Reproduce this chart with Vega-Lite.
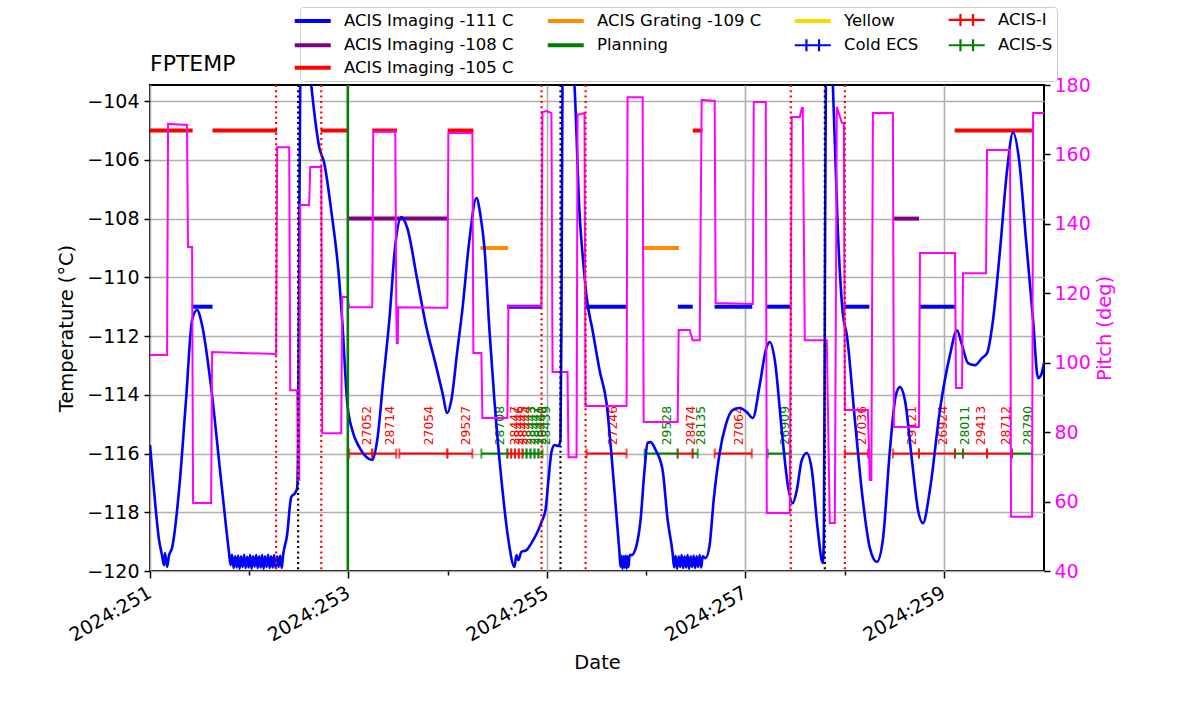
{
  "$schema": "https://vega.github.io/schema/vega-lite/v6.json",
  "width": 894,
  "height": 486,
  "autosize": {"type": "none"},
  "padding": {"left": 150, "top": 85, "right": 156, "bottom": 143},
  "background": "white",
  "title": {"text": "FPTEMP", "anchor": "start", "frame": "group", "fontSize": 22, "fontWeight": "normal", "font": "DejaVu Sans", "color": "black", "offset": 4, "dy": 73},
  "config": {
    "font": "DejaVu Sans",
    "view": {"stroke": "black", "strokeWidth": 2},
    "axis": {"labelFont": "DejaVu Sans", "labelFontSize": 19, "titleFont": "DejaVu Sans", "titleFontSize": 19.4, "titleFontWeight": "normal", "labelColor": "black", "titleColor": "black", "tickColor": "black", "tickWidth": 1.5, "gridColor": "#b0b0b0", "gridWidth": 1.6, "gridOpacity": 1, "domain": false},
    "legend": {"labelFont": "DejaVu Sans", "labelFontSize": 16.5, "labelColor": "black"}
  },
  "datasets": {
    "temp": [
      {"d":251.000,"t":-115.71},{"d":251.040,"t":-117.24},{"d":251.091,"t":-118.94},{"d":251.121,"t":-119.46},{"d":251.141,"t":-119.80},{"d":251.151,"t":-119.39},{"d":251.172,"t":-119.86},{"d":251.192,"t":-119.46},{"d":251.222,"t":-119.22},{"d":251.293,"t":-117.24},{"d":251.363,"t":-114.18},{"d":251.424,"t":-111.46},{"d":251.474,"t":-111.11},{"d":251.525,"t":-111.63},{"d":251.616,"t":-113.74},{"d":251.716,"t":-116.90},{"d":251.797,"t":-119.39},{"d":251.812,"t":-119.80},{"d":251.827,"t":-119.45},{"d":251.843,"t":-119.90},{"d":251.858,"t":-119.50},{"d":251.873,"t":-119.88},{"d":251.888,"t":-119.47},{"d":251.903,"t":-119.92},{"d":251.918,"t":-119.50},{"d":251.934,"t":-119.86},{"d":251.949,"t":-119.45},{"d":251.964,"t":-119.90},{"d":251.979,"t":-119.52},{"d":251.994,"t":-119.88},{"d":252.009,"t":-119.46},{"d":252.024,"t":-119.92},{"d":252.039,"t":-119.50},{"d":252.055,"t":-119.85},{"d":252.070,"t":-119.46},{"d":252.085,"t":-119.90},{"d":252.100,"t":-119.50},{"d":252.115,"t":-119.88},{"d":252.130,"t":-119.46},{"d":252.145,"t":-119.92},{"d":252.160,"t":-119.50},{"d":252.176,"t":-119.86},{"d":252.191,"t":-119.45},{"d":252.206,"t":-119.90},{"d":252.221,"t":-119.50},{"d":252.236,"t":-119.88},{"d":252.251,"t":-119.46},{"d":252.266,"t":-119.90},{"d":252.282,"t":-119.50},{"d":252.297,"t":-119.86},{"d":252.312,"t":-119.47},{"d":252.327,"t":-119.90},{"d":252.342,"t":-119.45},{"d":252.382,"t":-118.77},{"d":252.423,"t":-117.48},{"d":252.463,"t":-117.34},{"d":252.483,"t":-117.17},{"d":252.493,"t":-115.54},{"d":252.504,"t":-109.07},{"d":252.514,"t":-103.45},{"d":252.564,"t":-101.5},{"d":252.625,"t":-103.45},{"d":252.665,"t":-104.65},{"d":252.706,"t":-105.57},{"d":252.756,"t":-106.11},{"d":252.826,"t":-107.71},{"d":252.907,"t":-110.09},{"d":252.937,"t":-111.46},{"d":252.988,"t":-114.28},{"d":253.038,"t":-115.20},{"d":253.109,"t":-115.78},{"d":253.180,"t":-116.12},{"d":253.240,"t":-116.22},{"d":253.290,"t":-115.54},{"d":253.351,"t":-113.50},{"d":253.412,"t":-111.46},{"d":253.472,"t":-108.90},{"d":253.533,"t":-107.95},{"d":253.593,"t":-108.32},{"d":253.694,"t":-110.09},{"d":253.785,"t":-111.69},{"d":253.876,"t":-112.92},{"d":253.946,"t":-113.91},{"d":253.997,"t":-114.62},{"d":254.037,"t":-114.18},{"d":254.098,"t":-112.48},{"d":254.148,"t":-111.11},{"d":254.219,"t":-108.73},{"d":254.290,"t":-107.30},{"d":254.330,"t":-107.88},{"d":254.370,"t":-108.97},{"d":254.421,"t":-111.80},{"d":254.471,"t":-114.18},{"d":254.542,"t":-116.90},{"d":254.612,"t":-118.94},{"d":254.673,"t":-119.86},{"d":254.693,"t":-119.46},{"d":254.713,"t":-119.63},{"d":254.743,"t":-119.35},{"d":254.794,"t":-119.29},{"d":254.844,"t":-119.05},{"d":254.905,"t":-118.67},{"d":254.955,"t":-118.26},{"d":254.986,"t":-117.92},{"d":255.016,"t":-116.90},{"d":255.046,"t":-115.95},{"d":255.077,"t":-115.71},{"d":255.117,"t":-115.74},{"d":255.137,"t":-115.54},{"d":255.147,"t":-111.46},{"d":255.157,"t":-103.45},{"d":255.208,"t":-101.3},{"d":255.278,"t":-103.45},{"d":255.329,"t":-107.81},{"d":255.369,"t":-109.58},{"d":255.400,"t":-110.67},{"d":255.460,"t":-111.80},{"d":255.531,"t":-113.16},{"d":255.601,"t":-114.28},{"d":255.672,"t":-116.90},{"d":255.732,"t":-119.39},{"d":255.742,"t":-119.85},{"d":255.752,"t":-119.48},{"d":255.762,"t":-119.92},{"d":255.772,"t":-119.50},{"d":255.783,"t":-119.88},{"d":255.793,"t":-119.47},{"d":255.803,"t":-119.92},{"d":255.813,"t":-119.50},{"d":255.823,"t":-119.86},{"d":255.833,"t":-119.46},{"d":255.853,"t":-119.46},{"d":255.904,"t":-119.12},{"d":255.944,"t":-118.26},{"d":255.984,"t":-116.56},{"d":256.015,"t":-115.64},{"d":256.045,"t":-115.61},{"d":256.096,"t":-115.88},{"d":256.166,"t":-116.56},{"d":256.217,"t":-118.26},{"d":256.267,"t":-119.39},{"d":256.282,"t":-119.88},{"d":256.297,"t":-119.48},{"d":256.312,"t":-119.92},{"d":256.328,"t":-119.50},{"d":256.343,"t":-119.86},{"d":256.358,"t":-119.46},{"d":256.373,"t":-119.90},{"d":256.388,"t":-119.50},{"d":256.403,"t":-119.88},{"d":256.418,"t":-119.46},{"d":256.433,"t":-119.92},{"d":256.449,"t":-119.50},{"d":256.464,"t":-119.86},{"d":256.479,"t":-119.47},{"d":256.494,"t":-119.90},{"d":256.509,"t":-119.50},{"d":256.524,"t":-119.86},{"d":256.540,"t":-119.46},{"d":256.555,"t":-119.88},{"d":256.570,"t":-119.50},{"d":256.600,"t":-119.56},{"d":256.640,"t":-119.12},{"d":256.681,"t":-117.58},{"d":256.741,"t":-115.98},{"d":256.802,"t":-115.03},{"d":256.872,"t":-114.52},{"d":256.943,"t":-114.45},{"d":257.014,"t":-114.59},{"d":257.075,"t":-114.79},{"d":257.145,"t":-113.67},{"d":257.206,"t":-112.48},{"d":257.246,"t":-112.20},{"d":257.297,"t":-112.82},{"d":257.367,"t":-115.20},{"d":257.428,"t":-117.07},{"d":257.478,"t":-117.69},{"d":257.519,"t":-117.24},{"d":257.569,"t":-116.22},{"d":257.619,"t":-115.98},{"d":257.670,"t":-116.56},{"d":257.730,"t":-118.60},{"d":257.781,"t":-119.73},{"d":257.791,"t":-118.9},{"d":257.801,"t":-111.46},{"d":257.811,"t":-103.45},{"d":257.841,"t":-101.3},{"d":257.882,"t":-103.45},{"d":257.932,"t":-108.39},{"d":257.982,"t":-111.22},{"d":258.023,"t":-111.97},{"d":258.104,"t":-114.86},{"d":258.184,"t":-117.58},{"d":258.255,"t":-119.22},{"d":258.326,"t":-119.69},{"d":258.386,"t":-118.94},{"d":258.457,"t":-115.88},{"d":258.517,"t":-114.01},{"d":258.558,"t":-113.74},{"d":258.608,"t":-114.18},{"d":258.679,"t":-116.22},{"d":258.740,"t":-117.92},{"d":258.790,"t":-118.37},{"d":258.860,"t":-117.24},{"d":258.961,"t":-114.52},{"d":259.062,"t":-112.65},{"d":259.133,"t":-111.80},{"d":259.184,"t":-112.31},{"d":259.244,"t":-112.92},{"d":259.315,"t":-112.99},{"d":259.385,"t":-112.75},{"d":259.436,"t":-112.58},{"d":259.496,"t":-111.46},{"d":259.567,"t":-109.07},{"d":259.638,"t":-106.35},{"d":259.698,"t":-105.06},{"d":259.759,"t":-106.01},{"d":259.829,"t":-108.73},{"d":259.900,"t":-111.46},{"d":259.950,"t":-113.43},{"d":259.980,"t":-113.33},{"d":260.011,"t":-112.89}
    ],
    "pitch": [
      {"d":251.000,"p":102.2},{"d":251.172,"p":102.2},{"d":251.182,"p":168.8},{"d":251.373,"p":168.5},{"d":251.383,"p":133.3},{"d":251.424,"p":133.3},{"d":251.434,"p":59.6},{"d":251.616,"p":59.6},{"d":251.626,"p":103.1},{"d":252.271,"p":102.5},{"d":252.282,"p":162.1},{"d":252.403,"p":162.1},{"d":252.413,"p":92.1},{"d":252.483,"p":92.1},{"d":252.493,"p":66.2},{"d":252.504,"p":66.2},{"d":252.514,"p":145.4},{"d":252.604,"p":145.4},{"d":252.615,"p":156.4},{"d":252.726,"p":156.4},{"d":252.736,"p":79.7},{"d":252.927,"p":79.7},{"d":252.937,"p":118.9},{"d":252.988,"p":118.9},{"d":253.008,"p":116.0},{"d":253.240,"p":116.0},{"d":253.250,"p":166.5},{"d":253.472,"p":166.5},{"d":253.482,"p":116.0},{"d":253.487,"p":105.7},{"d":253.497,"p":105.7},{"d":253.502,"p":116.0},{"d":253.916,"p":115.8},{"d":253.997,"p":115.8},{"d":254.007,"p":166.2},{"d":254.249,"p":166.2},{"d":254.259,"p":102.8},{"d":254.340,"p":102.8},{"d":254.350,"p":84.1},{"d":254.602,"p":84.1},{"d":254.612,"p":116.3},{"d":254.945,"p":116.3},{"d":254.955,"p":172.2},{"d":254.996,"p":172.5},{"d":255.046,"p":171.9},{"d":255.057,"p":97.3},{"d":255.208,"p":97.3},{"d":255.218,"p":72.8},{"d":255.299,"p":72.8},{"d":255.309,"p":171.4},{"d":255.379,"p":171.9},{"d":255.389,"p":87.5},{"d":255.803,"p":87.5},{"d":255.813,"p":176.5},{"d":255.965,"p":176.5},{"d":255.975,"p":82.9},{"d":256.318,"p":82.9},{"d":256.328,"p":109.4},{"d":256.439,"p":109.4},{"d":256.469,"p":106.5},{"d":256.540,"p":106.5},{"d":256.560,"p":175.7},{"d":256.691,"p":175.4},{"d":256.701,"p":117.2},{"d":257.075,"p":116.9},{"d":257.085,"p":175.1},{"d":257.206,"p":175.1},{"d":257.216,"p":56.7},{"d":257.448,"p":56.7},{"d":257.468,"p":170.8},{"d":257.549,"p":170.8},{"d":257.569,"p":173.4},{"d":257.579,"p":173.4},{"d":257.599,"p":106.5},{"d":257.821,"p":106.5},{"d":257.851,"p":53.8},{"d":257.902,"p":53.8},{"d":257.922,"p":173.7},{"d":257.973,"p":169.1},{"d":257.993,"p":169.1},{"d":258.003,"p":86.4},{"d":258.235,"p":86.4},{"d":258.255,"p":66.2},{"d":258.270,"p":66.2},{"d":258.286,"p":171.9},{"d":258.487,"p":171.9},{"d":258.497,"p":81.5},{"d":258.750,"p":81.5},{"d":258.760,"p":131.6},{"d":259.113,"p":131.6},{"d":259.123,"p":92.7},{"d":259.184,"p":92.7},{"d":259.194,"p":125.8},{"d":259.426,"p":125.8},{"d":259.436,"p":161.3},{"d":259.668,"p":161.3},{"d":259.678,"p":55.6},{"d":259.890,"p":55.6},{"d":259.900,"p":171.9},{"d":260.011,"p":171.9}
    ],
    "limits": [
      {"series":"ACIS Imaging -105 C","start":251.0,"end":251.43,"t":-105},
      {"series":"ACIS Imaging -105 C","start":251.63,"end":252.28,"t":-105},
      {"series":"ACIS Imaging -105 C","start":252.72,"end":253.0,"t":-105},
      {"series":"ACIS Imaging -105 C","start":253.24,"end":253.49,"t":-105},
      {"series":"ACIS Imaging -105 C","start":254.0,"end":254.26,"t":-105},
      {"series":"ACIS Imaging -105 C","start":256.47,"end":256.57,"t":-105},
      {"series":"ACIS Imaging -105 C","start":259.11,"end":259.89,"t":-105},
      {"series":"ACIS Imaging -108 C","start":253.0,"end":254.01,"t":-108},
      {"series":"ACIS Imaging -108 C","start":258.49,"end":258.75,"t":-108},
      {"series":"ACIS Grating -109 C","start":254.33,"end":254.61,"t":-109},
      {"series":"ACIS Grating -109 C","start":255.97,"end":256.33,"t":-109},
      {"series":"ACIS Imaging -111 C","start":251.42,"end":251.63,"t":-111},
      {"series":"ACIS Imaging -111 C","start":254.60,"end":254.95,"t":-111},
      {"series":"ACIS Imaging -111 C","start":255.39,"end":255.80,"t":-111},
      {"series":"ACIS Imaging -111 C","start":256.32,"end":256.47,"t":-111},
      {"series":"ACIS Imaging -111 C","start":256.69,"end":257.07,"t":-111},
      {"series":"ACIS Imaging -111 C","start":257.21,"end":257.46,"t":-111},
      {"series":"ACIS Imaging -111 C","start":257.99,"end":258.25,"t":-111},
      {"series":"ACIS Imaging -111 C","start":258.75,"end":259.12,"t":-111}
    ],
    "obs": [
      {"det":"ACIS-I","obsid":"27052","start":253.008,"end":253.240,"mid":253.124},
      {"det":"ACIS-I","obsid":"28714","start":253.240,"end":253.482,"mid":253.361},
      {"det":"ACIS-I","obsid":"27054","start":253.513,"end":253.997,"mid":253.755},
      {"det":"ACIS-I","obsid":"29527","start":253.997,"end":254.249,"mid":254.123},
      {"det":"ACIS-S","obsid":"28708","start":254.340,"end":254.602,"mid":254.471},
      {"det":"ACIS-I","obsid":"28447","start":254.602,"end":254.640,"mid":254.621},
      {"det":"ACIS-I","obsid":"28446","start":254.640,"end":254.678,"mid":254.659},
      {"det":"ACIS-I","obsid":"28445","start":254.678,"end":254.717,"mid":254.697},
      {"det":"ACIS-I","obsid":"28444","start":254.717,"end":254.755,"mid":254.736},
      {"det":"ACIS-S","obsid":"28443","start":254.755,"end":254.795,"mid":254.775},
      {"det":"ACIS-S","obsid":"28442","start":254.795,"end":254.835,"mid":254.815},
      {"det":"ACIS-S","obsid":"28441","start":254.835,"end":254.875,"mid":254.855},
      {"det":"ACIS-S","obsid":"28440","start":254.875,"end":254.915,"mid":254.895},
      {"det":"ACIS-S","obsid":"28439","start":254.915,"end":254.956,"mid":254.935},
      {"det":"ACIS-I","obsid":"27246","start":255.400,"end":255.803,"mid":255.601},
      {"det":"ACIS-S","obsid":"29528","start":255.985,"end":256.318,"mid":256.151},
      {"det":"ACIS-I","obsid":"28474","start":256.318,"end":256.469,"mid":256.393},
      {"det":"ACIS-S","obsid":"28135","start":256.469,"end":256.520,"mid":256.494},
      {"det":"ACIS-I","obsid":"27064","start":256.691,"end":257.065,"mid":256.878},
      {"det":"ACIS-S","obsid":"26909","start":257.226,"end":257.458,"mid":257.342},
      {"det":"ACIS-I","obsid":"27036","start":258.003,"end":258.235,"mid":258.119},
      {"det":"ACIS-I","obsid":"29121","start":258.487,"end":258.750,"mid":258.619},
      {"det":"ACIS-I","obsid":"26924","start":258.750,"end":259.113,"mid":258.932},
      {"det":"ACIS-S","obsid":"28011","start":259.113,"end":259.194,"mid":259.153},
      {"det":"ACIS-I","obsid":"29413","start":259.194,"end":259.436,"mid":259.315},
      {"det":"ACIS-I","obsid":"28712","start":259.436,"end":259.688,"mid":259.562},
      {"det":"ACIS-S","obsid":"28790","start":259.688,"end":259.890,"mid":259.789}
    ],
    "vlines": [
      {"d":252.271,"kind":"radzone"},{"d":252.726,"kind":"radzone"},{"d":254.946,"kind":"radzone"},{"d":255.390,"kind":"radzone"},{"d":257.458,"kind":"radzone"},{"d":258.003,"kind":"radzone"},
      {"d":252.493,"kind":"perigee"},{"d":255.137,"kind":"perigee"},{"d":257.801,"kind":"perigee"},
      {"d":252.993,"kind":"now"}
    ]
  },
  "resolve": {"scale": {"y": "independent"}},
  "layer": [
    {
      "layer": [
        {
          "data": {"name": "limits"},
          "mark": {"type": "rule", "strokeWidth": 4, "strokeCap": "butt"},
          "encoding": {
            "x": {"field": "start", "type": "quantitative", "scale": {"domain": [251, 260.01], "nice": false, "zero": false},
              "axis": {"orient": "bottom", "values": [251,252,253,254,255,256,257,258,259], "labelExpr": "datum.value % 2 == 1 ? '2024:' + datum.value : ''", "labelAngle": -30, "labelAlign": "right", "labelBaseline": "top", "labelPadding": 5, "labelOffset": -5, "labelOverlap": false, "labelFlush": false, "tickSize": {"condition": {"test": "datum.value % 2 == 0", "value": 4}, "value": 7}, "gridOpacity": {"condition": {"test": "datum.value % 2 == 0", "value": 0}, "value": 1}, "grid": true, "title": "Date", "titlePadding": 9}},
            "x2": {"field": "end"},
            "y": {"field": "t", "type": "quantitative", "scale": {"domain": [-120, -103.45], "nice": false, "zero": false},
              "axis": {"orient": "left", "values": [-120,-118,-116,-114,-112,-110,-108,-106,-104], "grid": true, "tickSize": 6, "labelPadding": 5, "title": "Temperature (°C)", "titlePadding": 10}},
            "color": {"field": "series", "type": "nominal",
              "scale": {"domain": ["ACIS Imaging -111 C","ACIS Grating -109 C","Yellow","ACIS-I","ACIS Imaging -108 C","Planning","Cold ECS","ACIS-S","ACIS Imaging -105 C"],
                        "range": ["#0000ff","#ff8c00","#ffd700","#ff0000","#800080","#008000","#0000ff","#008000","#ff0000"]},
              "legend": {"title": null, "orient": "none", "direction": "horizontal", "legendX": 150, "legendY": -78, "columns": 4, "symbolType": "stroke", "symbolSize": 1296, "symbolStrokeWidth": 4, "labelOffset": 23, "labelFontSize": 16.5, "labelLimit": 400, "rowPadding": 3.5, "columnPadding": 25, "padding": 4.5, "strokeColor": "#cccccc", "fillColor": "white", "cornerRadius": 3,
                "encode": {"symbols": {"update": {
                  "shape": {"signal": "indexof(['Cold ECS','ACIS-I','ACIS-S'], datum.value) >= 0 ? 'M-1,0H1M-0.35,-0.33V0.33M0.35,-0.33V0.33' : 'stroke'"},
                  "stroke": {"scale": "color", "field": "value"},
                  "strokeWidth": {"signal": "indexof(['Cold ECS','ACIS-I','ACIS-S'], datum.value) >= 0 ? 2.2 : 4"},
                  "fill": {"value": "transparent"}}}}}}
          }
        },
        {
          "data": {"name": "obs"},
          "mark": {"type": "rule", "strokeWidth": 2},
          "encoding": {
            "x": {"field": "start", "type": "quantitative"},
            "x2": {"field": "end"},
            "y": {"datum": -116, "type": "quantitative"},
            "color": {"field": "det", "type": "nominal", "legend": null}
          }
        },
        {
          "data": {"name": "obs"},
          "mark": {"type": "tick", "orient": "vertical", "size": 10, "thickness": 2},
          "encoding": {
            "x": {"field": "start", "type": "quantitative"},
            "y": {"datum": -116, "type": "quantitative"},
            "color": {"field": "det", "type": "nominal", "legend": null}
          }
        },
        {
          "data": {"name": "obs"},
          "mark": {"type": "tick", "orient": "vertical", "size": 10, "thickness": 2},
          "encoding": {
            "x": {"field": "end", "type": "quantitative"},
            "y": {"datum": -116, "type": "quantitative"},
            "color": {"field": "det", "type": "nominal", "legend": null}
          }
        },
        {
          "data": {"name": "obs"},
          "mark": {"type": "text", "angle": 270, "align": "left", "baseline": "top", "fontSize": 12.4, "font": "DejaVu Sans"},
          "encoding": {
            "x": {"field": "mid", "type": "quantitative"},
            "y": {"datum": -115.72, "type": "quantitative"},
            "text": {"field": "obsid", "type": "nominal"},
            "color": {"field": "det", "type": "nominal", "legend": null}
          }
        },
        {
          "data": {"name": "temp"},
          "mark": {"type": "line", "color": "#0000ff", "strokeWidth": 2.6, "interpolate": "monotone", "clip": true},
          "encoding": {
            "x": {"field": "d", "type": "quantitative"},
            "y": {"field": "t", "type": "quantitative"}
          }
        }
      ]
    },
    {
      "data": {"name": "pitch"},
      "mark": {"type": "line", "color": "#ff00ff", "strokeWidth": 2, "clip": true},
      "encoding": {
        "x": {"field": "d", "type": "quantitative"},
        "y": {"field": "p", "type": "quantitative", "scale": {"domain": [40, 180], "nice": false, "zero": false},
          "axis": {"orient": "right", "values": [40,60,80,100,120,140,160,180], "grid": false, "tickSize": 6, "labelPadding": 4, "labelColor": "#ff00ff", "title": "Pitch (deg)", "titleColor": "#ff00ff", "titleAngle": 270, "titleBaseline": "top", "titlePadding": 5}}
      }
    },
    {
      "data": {"name": "vlines"},
      "transform": [{"filter": "datum.kind == 'radzone'"}],
      "mark": {"type": "rule", "color": "#ff0000", "strokeWidth": 2.2, "strokeDash": [2, 3.3]},
      "encoding": {"x": {"field": "d", "type": "quantitative"}}
    },
    {
      "data": {"name": "vlines"},
      "transform": [{"filter": "datum.kind == 'perigee'"}],
      "mark": {"type": "rule", "color": "black", "strokeWidth": 2.2, "strokeDash": [2, 3.3]},
      "encoding": {"x": {"field": "d", "type": "quantitative"}}
    },
    {
      "data": {"name": "vlines"},
      "transform": [{"filter": "datum.kind == 'now'"}],
      "mark": {"type": "rule", "color": "#008000", "strokeWidth": 2.5},
      "encoding": {"x": {"field": "d", "type": "quantitative"}}
    }
  ]
}
